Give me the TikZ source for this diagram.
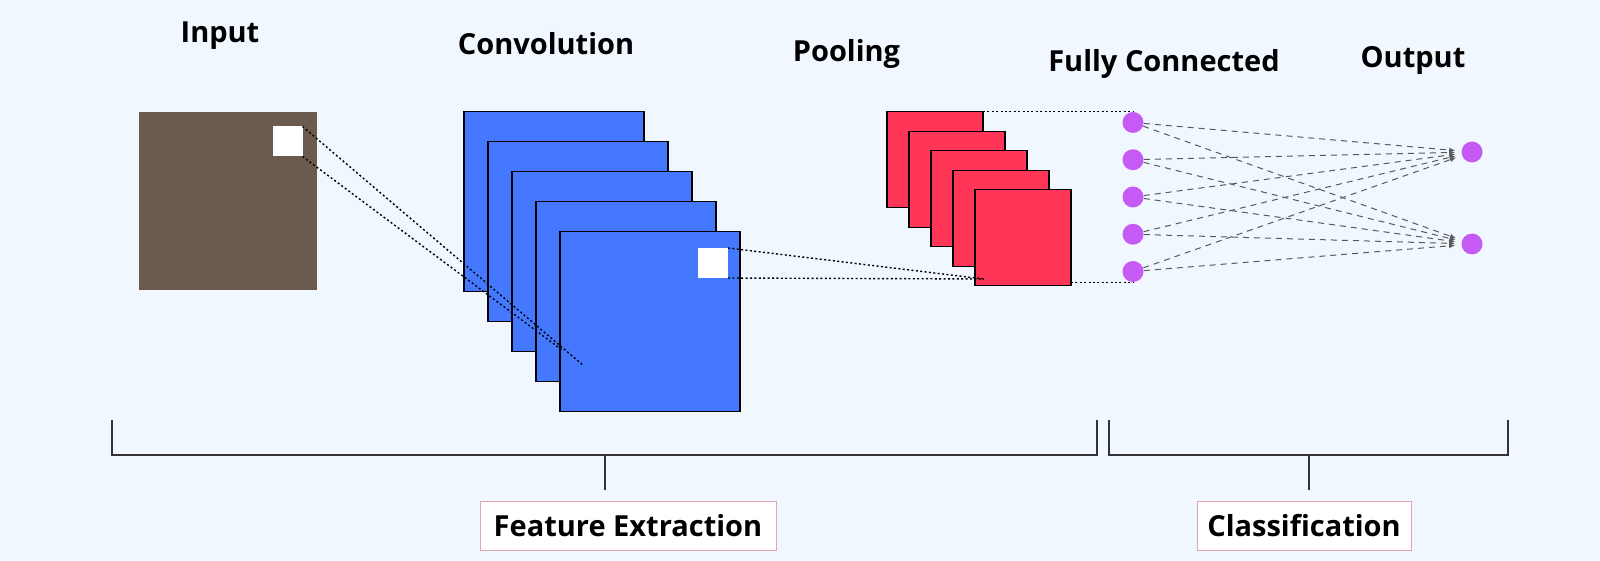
\documentclass[tikz,border=0pt]{standalone}
\usepackage{fontspec}
\setmainfont{Open Sans}
\usetikzlibrary{arrows.meta}

\definecolor{bgblue}{HTML}{F0F7FF}
\definecolor{inbrown}{HTML}{6B5A4D}
\definecolor{convblue}{HTML}{4479FF}
\definecolor{poolred}{HTML}{FF3658}
\definecolor{fcpurple}{HTML}{C55AF5}
\definecolor{tagpink}{HTML}{E3A3B3}

\begin{document}
\begin{tikzpicture}[x=0.5pt,
            y=-0.5pt,
            >={Latex[length=3pt,width=2.5pt]},
            font=\bfseries\fontsize{14.5}{16}\selectfont,
            inmap/.style={fill=inbrown,minimum size=89pt,inner sep=0pt,outer sep=0pt},
            convmap/.style={draw=black,line width=0.6pt,fill=convblue,minimum size=90pt,inner sep=0pt,outer sep=0pt},
            poolmap/.style={draw=black,line width=0.6pt,fill=poolred,minimum size=48pt,inner sep=0pt,outer sep=0pt},
            patch/.style={fill=white,minimum size=15pt,inner sep=0pt,outer sep=0pt},
            neuron/.style={circle,fill=fcpurple,minimum size=10.5pt,inner sep=0pt},
            title/.style={anchor=base},
            tag/.style={draw=tagpink,fill=white,line width=0.5pt,minimum height=24.5pt,inner sep=0pt},
            field/.style={line width=0.7pt,dash pattern=on 1pt off 1.2pt},
            weight/.style={->,draw=black!65,line width=0.5pt,dash pattern=on 3pt off 2.5pt,shorten >=3pt},
            bracket/.style={draw=black!80,line width=0.7pt}]

        \fill[bgblue] (0,0) rectangle (1600,561);
        \useasboundingbox (0,0) rectangle (1600,561);

        % titles
        \node[title] (tin)   at (220,42.7)    {Input};
        \node[title] (tconv) at (546,55)      {Convolution};
        \node[title] (tpool) at (846.5,61.7)  {Pooling};
        \node[title] (tfc)   at (1164,71.7)   {Fully Connected};
        \node[title] (tout)  at (1413,67.3)   {Output};

        % input image
        \node[inmap] (in)  at (227.5,201)   {};
        \node[patch] (inp) at (287.5,141.5) {};

        % convolution maps
        \node[convmap] (c1) at (554,201.5) {};
        \node[convmap] (c2) at (578,231.5) {};
        \node[convmap] (c3) at (602,261.5) {};
        \node[convmap] (c4) at (626,291.5) {};
        \node[convmap] (c5) at (650,321.5) {};
        \node[patch]   (cp) at (713,263)   {};

        % pooling maps
        \node[poolmap] (p1) at (935,159.5)   {};
        \node[poolmap] (p2) at (957,179.25)  {};
        \node[poolmap] (p3) at (979,198.75)  {};
        \node[poolmap] (p4) at (1001,218.25) {};
        \node[poolmap] (p5) at (1023,237.75) {};

        % fully connected + output
        \node[neuron] (f1) at (1133,122.5)  {};
        \node[neuron] (f2) at (1133,159.75) {};
        \node[neuron] (f3) at (1133,197)    {};
        \node[neuron] (f4) at (1133,234.25) {};
        \node[neuron] (f5) at (1133,271.5)  {};
        \node[neuron] (o1) at (1472,152)    {};
        \node[neuron] (o2) at (1472,244)    {};

        \coordinate (ca) at (584,366);
        \coordinate (cb) at (562,350);
        \coordinate (pa) at (984,279);

        % receptive fields
        \draw[field] (inp.north east) -- (ca);
        \draw[field] (inp.south east) -- (cb);
        \draw[field] (cp.north east) -- (pa);
        \draw[field] (cp.south east) -- (pa);
        \draw[field] (f1.north -| p1.east) -- (f1.north);
        \draw[field] (f5.south -| p5.east) -- (f5.south);

        \path (f1) edge[weight] (o1) edge[weight] (o2)
              (f2) edge[weight] (o1) edge[weight] (o2)
              (f3) edge[weight] (o1) edge[weight] (o2)
              (f4) edge[weight] (o1) edge[weight] (o2)
              (f5) edge[weight] (o1) edge[weight] (o2);

        % stages
        \draw[bracket] (112,420) |- (1097,455) -- (1097,420);
        \draw[bracket] (1109,420) |- (1508,455) -- (1508,420);
        \draw[bracket] (605,455) -- (605,490);
        \draw[bracket] (1309,455) -- (1309,490);

        \node[tag,minimum width=148pt] (fe)  at (628,525.5)  {Feature Extraction};
        \node[tag,minimum width=107pt] (cls) at (1304,525.5) {Classification};

    \end{tikzpicture}
\end{document}
